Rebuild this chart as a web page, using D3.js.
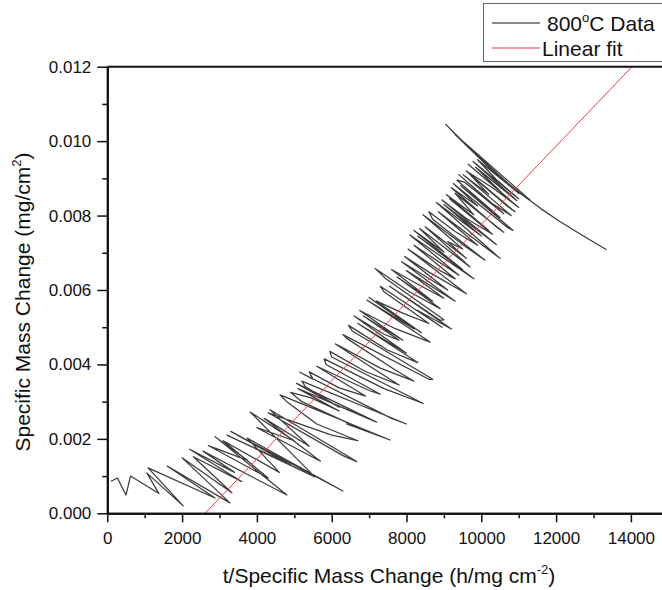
<!DOCTYPE html>
<html>
<head>
<meta charset="utf-8">
<script src="https://cdn.jsdelivr.net/npm/d3@7"></script>
<style>
  html, body { margin: 0; background: #fff; overflow: hidden; }
  svg { display: block; font-family: "Liberation Sans", Arial, sans-serif; }
</style>
</head>
<body>
<div id="chart"></div>
<script>
// 800C data (t/dm on x, dm on y), in drawing order
// start of the run, low values
const lowX = [100,270,500,620,1380,1060,2030,1090,2880,1600,3280,2000,3330,2300,3600,2200,3400,2560,4800,2880,
  3740,2700,4300,3100,4600,3740,6300,3300,4900,3200,5550,3820,5000,4000,5700,4200,5400,4350,6670];
const lowY = [0.00086,0.00095,0.00049,0.00100,0.00053,0.00108,0.00020,0.00122,0.00041,0.00127,0.00028,0.00149,0.00055,0.00152,0.00085,0.00172,0.00110,0.00167,0.00049,0.00206,
  0.00143,0.00182,0.00095,0.00195,0.00110,0.00202,0.00060,0.00220,0.00130,0.00210,0.00098,0.00272,0.00195,0.00230,0.00140,0.00255,0.00180,0.00278,0.00139];

// main noisy band
const bandX = [6300,4300,6000,6700,5600,4800,4620,7560,6400,7000,6600,5200,4900,5450,6200,5100,7200,5060,6200,5300,
  5200,8000,7600,5150,5500,5400,6200,6900,5600,7000,7300,5850,5800,7400,8450,6000,5950,6900,7800,7100,
  6100,6200,7300,8200,7700,6400,6300,8600,8700,6550,6450,7500,8300,6700,8000,6600,7400,7800,6850,7900,
  6750,7700,8630,6940,8200,7000,8400,7200,7900,8600,7400,7300,8950,8300,9200,7550,8900,9000,7450,7160,
  8100,8900,7750,8700,7600,8400,9000,8000,
  9300,7870,9100,7950,8600,9600,8040,8900,9300,8200,9400,8090,9800,8300,9500,8200,9000,8350,9700,
  8500,9600,9100,9500,8440,9600,10100,8700,8600,9300,9900,8850,10500,8800,10000,9000,10400,8950,
  9600,10300,9150,10200,9070,9800,9300,10600,10400,9200,9900,9250,10700,
  10850,9450,10500,9350,9550,10600,9400,10300,
  10800,9510,10200,9700,10700,10900,9600,10300,11000,9650,10600,
  9850,10950,10900,9780,11000,10400,9900,11000,10000];
const bandY = [0.00155,0.00270,0.00210,0.00195,0.00240,0.00300,0.00318,0.00197,0.00240,0.00220,0.00235,0.00300,0.00325,0.00310,0.00275,0.00335,0.00245,0.00349,0.00285,0.00340,
  0.00355,0.00240,0.00255,0.00379,0.00360,0.00380,0.00337,0.00315,0.00395,0.00330,0.00320,0.00400,0.00415,0.00335,0.00295,0.00420,0.00435,0.00381,0.00345,0.00390,
  0.00455,0.00450,0.00390,0.00355,0.00385,0.00470,0.00480,0.00360,0.00360,0.00490,0.00505,0.00438,0.00405,0.00510,0.00430,0.00530,0.00481,0.00465,0.00530,0.00465,
  0.00545,0.00496,0.00460,0.00573,0.00495,0.00580,0.00485,0.00570,0.00538,0.00510,0.00595,0.00610,0.00500,0.00545,0.00495,0.00610,0.00519,0.00520,0.00630,0.00658,
  0.00594,0.00550,0.00635,0.00570,0.00655,0.00610,0.00578,0.00652,
  0.00570,0.00676,0.00600,0.00690,0.00648,0.00590,0.00710,0.00652,0.00630,0.00720,0.00640,0.00748,0.00630,0.00745,0.00655,0.00760,0.00702,0.00765,0.00662,
  0.00770,0.00685,0.00730,0.00710,0.00802,0.00715,0.00680,0.00790,0.00810,0.00757,0.00720,0.00810,0.00685,0.00835,0.00745,0.00830,0.00722,0.00842,
  0.00792,0.00750,0.00845,0.00760,0.00856,0.00802,0.00860,0.00755,0.00770,0.00875,0.00826,0.00886,0.00768,
  0.00760,0.00880,0.00795,0.00895,0.00890,0.00805,0.00910,0.00832,
  0.00800,0.00910,0.00857,0.00910,0.00825,0.00810,0.00920,0.00875,0.00822,0.00938,0.00856,
  0.00930,0.00840,0.00845,0.00945,0.00845,0.00897,0.00950,0.00860,0.00950];

// end of the run, the falling tail
const tailX = [9050,9600,10300,11000,11300,9300,10000,10700,9500,10400,11100,11600,12100,12600,13000,13350];
const tailY = [0.01045,0.00988,0.00920,0.00862,0.00842,0.01018,0.00950,0.00888,0.00998,0.00912,0.00855,0.00818,0.00784,0.00753,0.00729,0.00708];

// linear fit end points
const fitX = [2612, 14030];
const fitY = [0, 0.012];

const xTicks = [0, 2000, 4000, 6000, 8000, 10000, 12000, 14000];
const xMinor = [1000, 3000, 5000, 7000, 9000, 11000, 13000];
const yTicks = [0, 0.002, 0.004, 0.006, 0.008, 0.010, 0.012];
const yMinor = [0.001, 0.003, 0.005, 0.007, 0.009, 0.011];

const chart = {width: 662, height: 590, margin: {left: 107.3, top: 66.7}};
chart.innerWidth = 561;
chart.innerHeight = 446.6;

const svg = d3.select("#chart")
    .append("svg")
    .attr("width", chart.width)
    .attr("height", chart.height);

const g = svg.append("g")
    .attr("transform", `translate(${chart.margin.left}, ${chart.margin.top})`);

const x = d3.scaleLinear().domain([0, 15000]).range([0, chart.innerWidth]);
const y = d3.scaleLinear().domain([0, 0.012]).range([chart.innerHeight, 0]);

g.append("clipPath").attr("id", "plotClip")
    .append("rect")
    .attr("width", chart.innerWidth)
    .attr("height", chart.innerHeight);

const plot = g.append("g").attr("clip-path", "url(#plotClip)");

const toPoints = (xs, ys) => xs.map((v, i) => [v, ys[i]]);
const data = toPoints(lowX, lowY)
    .concat(toPoints(bandX, bandY))
    .concat(toPoints(tailX, tailY));

const line = d3.line().x(d => x(d[0])).y(d => y(d[1]));

plot.append("path")
    .datum(data)
    .attr("fill", "none")
    .attr("stroke", "#1a1a1a")
    .attr("stroke-opacity", 0.85)
    .attr("stroke-width", 1.25)
    .attr("stroke-linejoin", "round")
    .attr("d", line);

plot.append("path")
    .datum(toPoints(fitX, fitY))
    .attr("fill", "none")
    .attr("stroke", "#e8414b")
    .attr("stroke-width", 1)
    .attr("d", line);

// axes
const styleAxis = sel => {
    sel.select(".domain").attr("stroke", "#111").attr("stroke-width", 2);
    sel.selectAll(".tick line").attr("stroke", "#111").attr("stroke-width", 1.5);
    sel.selectAll(".tick text").attr("fill", "#111").style("font-size", "17px");
};

g.append("g")
    .attr("transform", `translate(0, ${chart.innerHeight})`)
    .call(d3.axisBottom(x).tickValues(xTicks).tickFormat(d3.format("d"))
        .tickSize(9).tickSizeOuter(0).tickPadding(10))
    .call(styleAxis);

g.append("g")
    .attr("transform", `translate(0, ${chart.innerHeight})`)
    .call(d3.axisBottom(x).tickValues(xMinor).tickFormat("").tickSize(5).tickSizeOuter(0))
    .call(styleAxis);

g.append("g")
    .call(d3.axisLeft(y).tickValues(yTicks).tickFormat(d3.format(".3f"))
        .tickSize(10).tickSizeOuter(0).tickPadding(6))
    .call(styleAxis);

g.append("g")
    .call(d3.axisLeft(y).tickValues(yMinor).tickFormat("").tickSize(5).tickSizeOuter(0))
    .call(styleAxis);

// top frame
g.append("line")
    .attr("x1", 0).attr("x2", chart.innerWidth)
    .attr("y1", 0).attr("y2", 0)
    .attr("stroke", "#111").attr("stroke-width", 2);

// axis titles
const xTitle = svg.append("text")
    .attr("x", 389).attr("y", 583)
    .attr("text-anchor", "middle")
    .style("font-size", "21px")
    .attr("fill", "#111");
xTitle.append("tspan").text("t/Specific Mass Change (h/mg cm");
xTitle.append("tspan").attr("dy", -9).style("font-size", "13px").text("-2");
xTitle.append("tspan").attr("dy", 9).text(")");

const yTitle = svg.append("text")
    .attr("transform", "translate(30, 302) rotate(-90)")
    .attr("text-anchor", "middle")
    .style("font-size", "21px")
    .attr("fill", "#111");
yTitle.append("tspan").text("Specific Mass Change (mg/cm");
yTitle.append("tspan").attr("dy", -9).style("font-size", "13px").text("2");
yTitle.append("tspan").attr("dy", 9).text(")");

// legend
const legend = svg.append("g");
legend.append("rect")
    .attr("x", 483.5).attr("y", 3.5)
    .attr("width", 190).attr("height", 58)
    .attr("fill", "#fff")
    .attr("stroke", "#666").attr("stroke-width", 1);

const legendItems = [
    {label: "800", sup: "o", rest: "C Data", color: "#111", y: 23, tx: 547},
    {label: "Linear fit", sup: null, rest: null, color: "#e8414b", y: 48, tx: 542}
];

legendItems.forEach(item => {
    legend.append("line")
        .attr("x1", 492).attr("x2", 540)
        .attr("y1", item.y).attr("y2", item.y)
        .attr("stroke", item.color).attr("stroke-width", 1);
    const t = legend.append("text")
        .attr("x", item.tx).attr("y", item.y + 8)
        .style("font-size", "21px")
        .attr("fill", "#111");
    t.append("tspan").text(item.label);
    if (item.sup) {
        t.append("tspan").attr("dy", -9).style("font-size", "13px").text(item.sup);
        t.append("tspan").attr("dy", 9).text(item.rest);
    }
});
</script>
</body>
</html>
